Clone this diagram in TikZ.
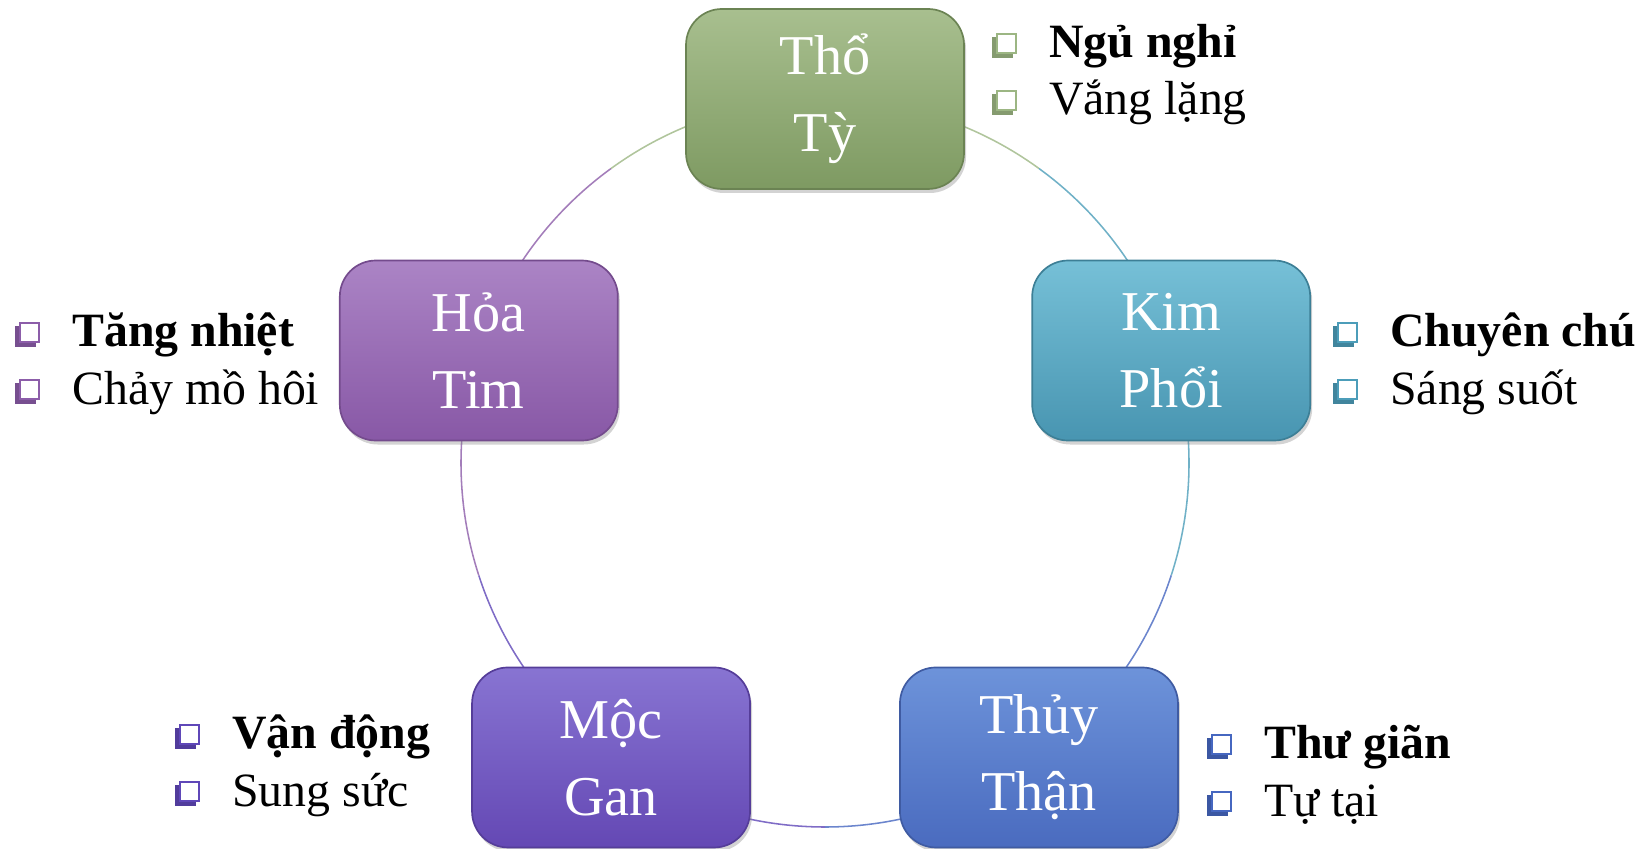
\documentclass[tikz,border=0pt]{standalone}
\usepackage{fontspec}
\setmainfont{Liberation Serif}
\usetikzlibrary{shadows}

\definecolor{thoTop}{HTML}{A8BF8F}
\definecolor{thoBot}{HTML}{7E9A62}
\definecolor{thoE}{HTML}{9CB683}
\definecolor{kimTop}{HTML}{76C0D7}
\definecolor{kimBot}{HTML}{4895B1}
\definecolor{kimE}{HTML}{4C9DB9}
\definecolor{thuyTop}{HTML}{6D93DA}
\definecolor{thuyBot}{HTML}{4A6BBF}
\definecolor{thuyE}{HTML}{4667C0}
\definecolor{mocTop}{HTML}{8874D2}
\definecolor{mocBot}{HTML}{6448B4}
\definecolor{mocE}{HTML}{5F47B8}
\definecolor{hoaTop}{HTML}{AB84C5}
\definecolor{hoaBot}{HTML}{8858A6}
\definecolor{hoaE}{HTML}{8C5DA9}

\begin{document}
\begin{tikzpicture}[
  elem/.style={rectangle, rounded corners=0.9cm, minimum width=6.95cm, minimum height=4.5cm,
    text=white, align=center, font=\fontsize{40}{55}\selectfont, line width=1.2pt,
    drop shadow={opacity=0.35, shadow xshift=0.05cm, shadow yshift=-0.1cm}},
  side/.style={inner sep=0pt, anchor=base west, font=\fontsize{34}{41}\selectfont},
  ring/.style={line width=1.1pt},
  sqb/.pic={
    \fill[\col!85!black] (0,0) rectangle (0.52,0.52);
    \draw[\col, fill=white, line width=1.5pt] (0.12,0.12) rectangle (0.6,0.6);
  }
]
\useasboundingbox (0,0) rectangle (41.225,21.225);
\coordinate (c) at (20.625,9.65);

% ring behind the five elements
\foreach \a/\cola/\colb in {90/thoE/kimE, 18/kimE/thuyE, -54/thuyE/mocE, -126/mocE/hoaE, 162/hoaE/thoE}
{
  \draw[ring, \cola!80!white] ([shift={(\a:9.1)}]c) arc (\a:\a-36:9.1);
  \draw[ring, \colb!80!white] ([shift={(\a-36:9.1)}]c) arc (\a-36:\a-72:9.1);
}

% elements
\foreach \a/\nm/\tc/\bc/\one/\two in {90/tho/thoTop/thoBot/Thổ/Tỳ, 18/kim/kimTop/kimBot/Kim/Phổi,
  -54/thuy/thuyTop/thuyBot/Thủy/Thận, -126/moc/mocTop/mocBot/Mộc/Gan, 162/hoa/hoaTop/hoaBot/Hỏa/Tim}
  \node[elem, top color=\tc, bottom color=\bc, draw=\bc!85!black] (\nm) at ([shift={(\a:9.1)}]c) {\one\\\two};

% side lists
\foreach \nm/\col/\x/\y/\one/\two in {tho/thoE/26.22/19.78/Ngủ nghỉ/Vắng lặng,
  kim/kimE/34.75/12.55/Chuyên chú/Sáng suốt, thuy/thuyE/31.6/2.25/Thư giãn/Tự tại,
  moc/mocE/5.8/2.5/Vận động/Sung sức, hoa/hoaE/1.8/12.55/Tăng nhiệt/Chảy mồ hôi}
{
  \node[side] (\nm-a) at (\x,\y) {\textbf{\one}};
  \node[side] (\nm-b) at (\x,\y-1.43) {\two};
  \pic at ([xshift=-1.42cm]\nm-a.base west) {sqb};
  \pic at ([xshift=-1.42cm]\nm-b.base west) {sqb};
}
\end{tikzpicture}
\end{document}
